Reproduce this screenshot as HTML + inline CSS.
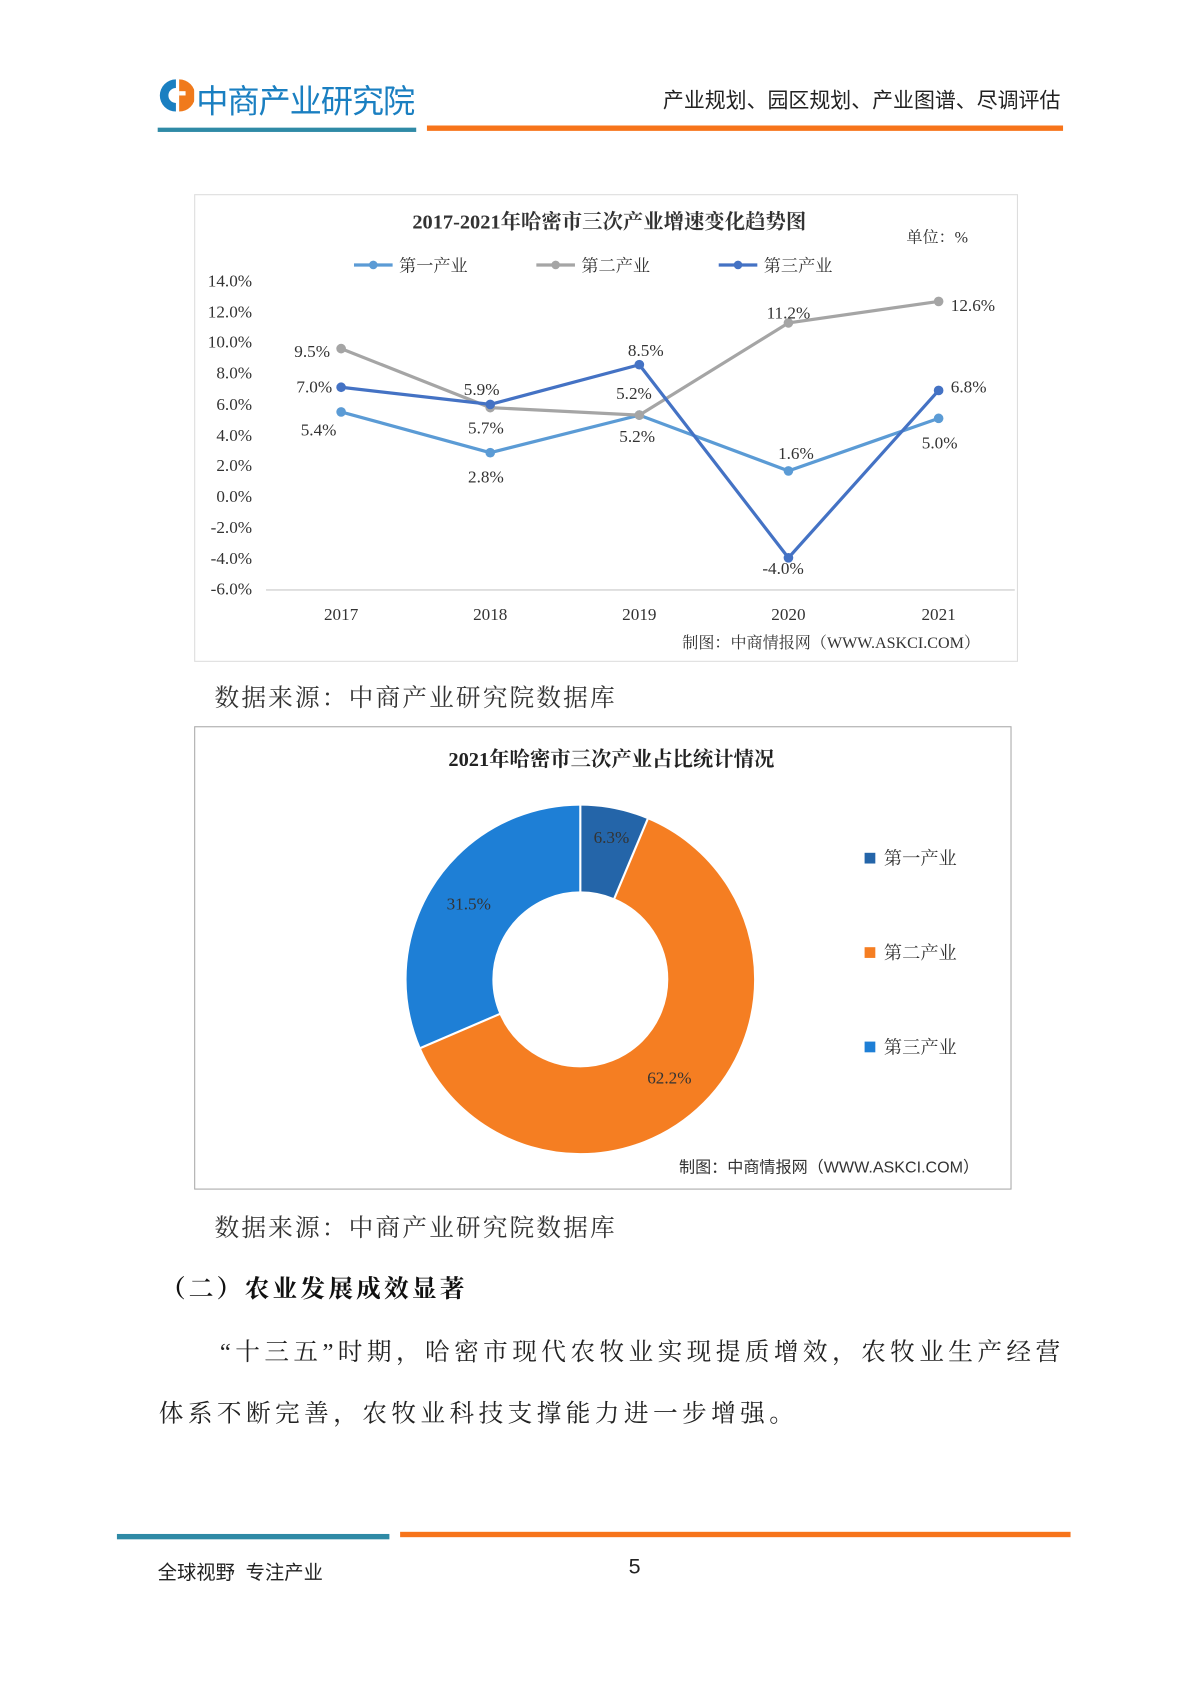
<!DOCTYPE html>
<html><head><meta charset="utf-8"><style>
html,body{margin:0;padding:0;background:#fff;width:1190px;height:1683px;overflow:hidden}
#w{position:absolute;left:0;top:0;width:1110px;height:1570px;transform:scale(1.0727);transform-origin:0 0;font-family:"Liberation Sans","Noto Sans CJK SC",sans-serif}
.t{position:absolute;white-space:nowrap}
.serif{font-family:"Liberation Serif","Noto Serif CJK SC",serif}
</style></head><body><div id="w">
<!-- header -->
<svg class="t" style="left:147px;top:72px" width="34" height="34" viewBox="0 0 34 34">
<path d="M17 2 A15 15 0 0 0 17 32 L17 24 A7 7 0 0 1 17 10 Z" fill="#1a7fc1"/>
<path d="M20 2 A15 15 0 0 1 20 32 Z" fill="#f07a1c"/>
<rect x="20" y="13" width="6" height="4" fill="#fff"/>
</svg>
<div class="t" style="left:183px;top:70px;font-size:30px;color:#1a7fc1;letter-spacing:-1px">中商产业研究院</div>
<div class="t" style="left:618px;top:77px;font-size:19.5px;color:#222">产业规划、园区规划、产业图谱、尽调评估</div>
<div class="t" style="left:147px;top:119px;width:241px;height:4px;background:#2f8aa6"></div>
<div class="t" style="left:398px;top:117px;width:593px;height:5px;background:#f7741a"></div>

<!-- chart 1 -->
<div class="t" style="left:181px;top:181px;width:766px;height:434px;border:1px solid #ddd"></div>
<svg class="t" style="left:0;top:0" width="1100" height="700">
<g font-family="Liberation Serif, Noto Serif CJK SC, serif" font-size="16" fill="#333">
<text x="568" y="213" text-anchor="middle" font-size="19" font-weight="bold">2017-2021年哈密市三次产业增速变化趋势图</text>
<text x="845" y="226" font-size="15">单位：%</text>
<line x1="330" y1="247" x2="366" y2="247" stroke="#5B9BD5" stroke-width="3"/><circle cx="348" cy="247" r="4" fill="#5B9BD5"/><text x="372" y="253">第一产业</text>
<line x1="500" y1="247" x2="536" y2="247" stroke="#A5A5A5" stroke-width="3"/><circle cx="518" cy="247" r="4" fill="#A5A5A5"/><text x="542" y="253">第二产业</text>
<line x1="670" y1="247" x2="706" y2="247" stroke="#4472C4" stroke-width="3"/><circle cx="688" cy="247" r="4" fill="#4472C4"/><text x="712" y="253">第三产业</text>
<g text-anchor="end">
<text x="235" y="267">14.0%</text><text x="235" y="296">12.0%</text><text x="235" y="324">10.0%</text><text x="235" y="353">8.0%</text><text x="235" y="382">6.0%</text><text x="235" y="411">4.0%</text><text x="235" y="439">2.0%</text><text x="235" y="468">0.0%</text><text x="235" y="497">-2.0%</text><text x="235" y="526">-4.0%</text><text x="235" y="554">-6.0%</text>
</g>
<line x1="248" y1="550" x2="946" y2="550" stroke="#d9d9d9" stroke-width="1.5"/>
<g text-anchor="middle"><text x="318" y="578">2017</text><text x="457" y="578">2018</text><text x="596" y="578">2019</text><text x="735" y="578">2020</text><text x="875" y="578">2021</text></g>
<polyline points="318,384 457,422 596,387 735,439 875,390" fill="none" stroke="#5B9BD5" stroke-width="3"/>
<polyline points="318,325 457,380 596,387 735,301 875,281" fill="none" stroke="#A5A5A5" stroke-width="3"/>
<polyline points="318,361 457,377 596,340 735,520 875,364" fill="none" stroke="#4472C4" stroke-width="3"/>
<g fill="#5B9BD5"><circle cx="318" cy="384" r="4.5"/><circle cx="457" cy="422" r="4.5"/><circle cx="596" cy="387" r="4.5"/><circle cx="735" cy="439" r="4.5"/><circle cx="875" cy="390" r="4.5"/></g>
<g fill="#A5A5A5"><circle cx="318" cy="325" r="4.5"/><circle cx="457" cy="380" r="4.5"/><circle cx="596" cy="387" r="4.5"/><circle cx="735" cy="301" r="4.5"/><circle cx="875" cy="281" r="4.5"/></g>
<g fill="#4472C4"><circle cx="318" cy="361" r="4.5"/><circle cx="457" cy="377" r="4.5"/><circle cx="596" cy="340" r="4.5"/><circle cx="735" cy="520" r="4.5"/><circle cx="875" cy="364" r="4.5"/></g>
<text x="291" y="333" text-anchor="middle">9.5%</text><text x="293" y="366" text-anchor="middle">7.0%</text><text x="297" y="406" text-anchor="middle">5.4%</text>
<text x="449" y="368" text-anchor="middle">5.9%</text><text x="453" y="404" text-anchor="middle">5.7%</text><text x="453" y="450" text-anchor="middle">2.8%</text>
<text x="602" y="332" text-anchor="middle">8.5%</text><text x="591" y="372" text-anchor="middle">5.2%</text><text x="594" y="412" text-anchor="middle">5.2%</text>
<text x="735" y="297" text-anchor="middle">11.2%</text><text x="742" y="428" text-anchor="middle">1.6%</text><text x="730" y="535" text-anchor="middle">-4.0%</text>
<text x="907" y="290" text-anchor="middle">12.6%</text><text x="903" y="366" text-anchor="middle">6.8%</text><text x="876" y="418" text-anchor="middle">5.0%</text>
<text x="636" y="604" font-size="15">制图：中商情报网（WWW.ASKCI.COM）</text>
</g></svg>
<div class="t serif" style="left:200px;top:632px;font-size:23px;color:#333;letter-spacing:2px">数据来源：中商产业研究院数据库</div>

<!-- chart 2 -->
<div class="t" style="left:181px;top:677px;width:760px;height:430px;border:1px solid #aaa"></div>
<svg class="t" style="left:0;top:0" width="1100" height="1120">
<text x="570" y="714" text-anchor="middle" font-size="19" font-weight="bold" font-family="Liberation Serif, Noto Serif CJK SC, serif" fill="#222">2021年哈密市三次产业占比统计情况</text>
<g transform="rotate(-90 541 913)" fill="none" stroke-width="80">
<circle cx="541" cy="913" r="122" stroke="#2465A9" stroke-dasharray="48.3 800"/>
<circle cx="541" cy="913" r="122" stroke="#F57E22" stroke-dasharray="0 48.3 476.8 800"/>
<circle cx="541" cy="913" r="122" stroke="#1E7FD6" stroke-dasharray="0 525.1 241.4 800"/>
</g>
<line x1="541" y1="913" x2="541" y2="750" stroke="#fff" stroke-width="2"/>
<line x1="541" y1="913" x2="604" y2="763" stroke="#fff" stroke-width="2"/>
<line x1="541" y1="913" x2="392" y2="977" stroke="#fff" stroke-width="2"/>
<circle cx="541" cy="913" r="81" fill="#fff"/>
<g font-family="Liberation Serif, Noto Serif CJK SC, serif" font-size="16" fill="#333">
<text x="570" y="786" text-anchor="middle">6.3%</text>
<text x="437" y="848" text-anchor="middle">31.5%</text>
<text x="624" y="1010" text-anchor="middle">62.2%</text>
<rect x="806" y="795" width="10" height="10" fill="#2465A9"/><text x="824" y="806" font-size="17">第一产业</text>
<rect x="806" y="883" width="10" height="10" fill="#F57E22"/><text x="824" y="894" font-size="17">第二产业</text>
<rect x="806" y="971" width="10" height="10" fill="#1E7FD6"/><text x="824" y="982" font-size="17">第三产业</text>
<text x="633" y="1093" font-size="15" font-family="Liberation Sans, Noto Sans CJK SC, sans-serif">制图：中商情报网（WWW.ASKCI.COM）</text>
</g></svg>
<div class="t serif" style="left:200px;top:1126px;font-size:23px;color:#333;letter-spacing:2px">数据来源：中商产业研究院数据库</div>
<div class="t serif" style="left:150px;top:1183px;font-size:23px;color:#111;font-weight:bold;letter-spacing:3px">（二）农业发展成效显著</div>
<div class="t serif" style="left:205px;top:1242px;font-size:23px;color:#222;letter-spacing:4.1px">“十三五”时期，哈密市现代农牧业实现提质增效，农牧业生产经营</div>
<div class="t serif" style="left:148px;top:1299px;font-size:23px;color:#222;letter-spacing:4.1px">体系不断完善，农牧业科技支撑能力进一步增强。</div>

<!-- footer -->
<div class="t" style="left:109px;top:1430px;width:254px;height:5px;background:#2f8aa6"></div>
<div class="t" style="left:373px;top:1428px;width:625px;height:5px;background:#f7741a"></div>
<div class="t" style="left:147px;top:1452px;font-size:18px;color:#222">全球视野&nbsp; 专注产业</div>
<div class="t" style="left:586px;top:1450px;font-size:20px;color:#222">5</div>
</div></body></html>
